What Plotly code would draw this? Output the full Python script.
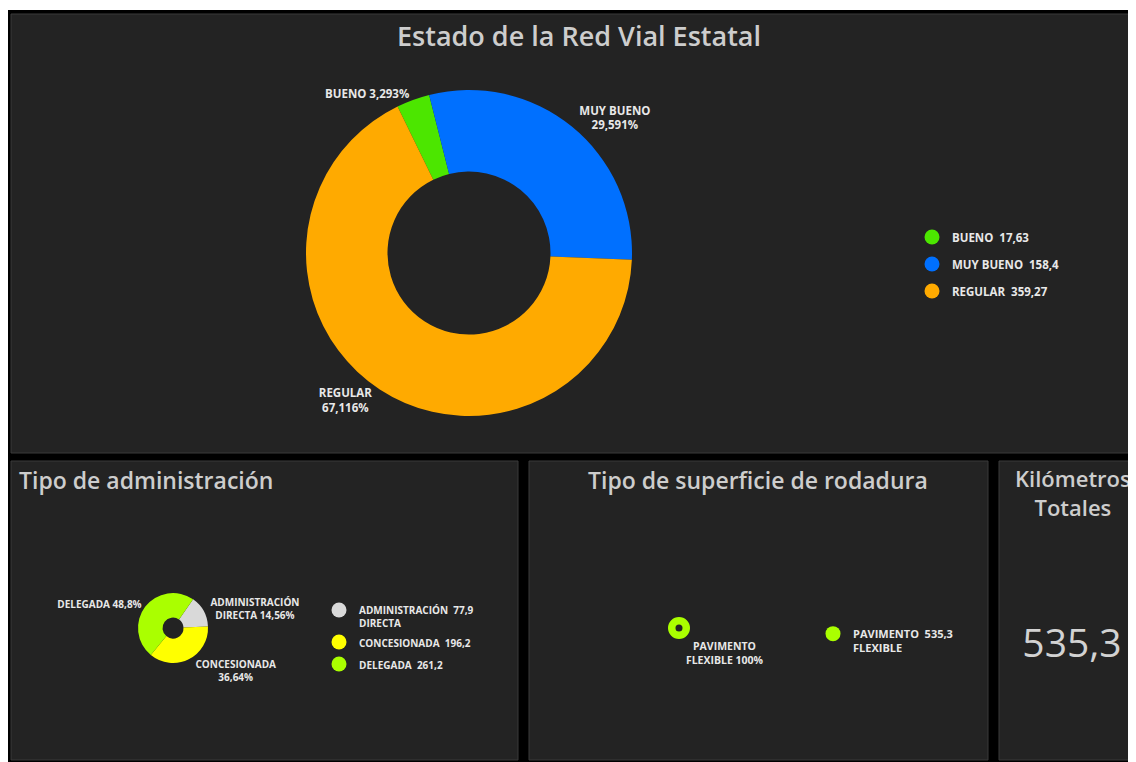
import plotly.graph_objects as go

W, H = 1136, 762
OX, OY = 8, 8  # page body margin of the browser

# ---------------- data ----------------
estado_labels = ["BUENO", "MUY BUENO", "REGULAR"]
estado_values = [17.63, 158.4, 359.27]
estado_colors = ["#4ce600", "#0070ff", "#ffaa00"]

admin_labels = ["ADMINISTRACIÓN DIRECTA", "CONCESIONADA", "DELEGADA"]
admin_text = ["ADMINISTRACIÓN<br>DIRECTA", "CONCESIONADA", "DELEGADA"]
admin_values = [77.9, 196.2, 261.2]
admin_pct = ["14,56%", "36,64%", "48,8%"]
admin_colors = ["#d9d9d9", "#ffff00", "#aaff00"]

sup_labels = ["PAVIMENTO FLEXIBLE"]
sup_text = ["PAVIMENTO<br>FLEXIBLE"]
sup_values = [535.3]
sup_pct = ["100%"]
sup_colors = ["#aaff00"]

km_total = 535.3

# ---------------- helpers ----------------
def fx(x):
    return (x - OX) / W

def fy(y):
    return 1 - (y - OY) / H

def fmt(v):
    return f"{v:g}".replace(".", ",")

FAM = "Open Sans"
TXT = "#e8e8e8"
def lfont(size):
    return dict(family=FAM, size=size, color=TXT, weight=700)
TITLE_COLOR = "#cdcdcd"

fig = go.Figure()

# ---------------- pies ----------------
def pie_domain(cx, cy, r):
    return dict(x=[fx(cx - r), fx(cx + r)], y=[fy(cy + r), fy(cy - r)])

fig.add_trace(go.Pie(
    labels=estado_labels, values=estado_values,
    marker=dict(colors=estado_colors, line=dict(width=0)),
    hole=0.5, sort=False, direction="clockwise", rotation=-26,
    textposition="outside",
    texttemplate=["%{label} %{percent:.3%}", "%{label}<br>%{percent:.3%}", "%{label}<br>%{percent:.3%}"],
    outsidetextfont=lfont(11.5),
    domain=pie_domain(469, 253, 163),
    showlegend=False, hoverinfo="skip",
))

fig.add_trace(go.Pie(
    labels=admin_labels, values=admin_values,
    marker=dict(colors=admin_colors, line=dict(width=0)),
    hole=0.3, sort=False, direction="clockwise", rotation=35,
    textposition="outside",
    customdata=[[t, p] for t, p in zip(admin_text, admin_pct)],
    texttemplate=["%{customdata[0]} %{customdata[1]}", "%{customdata[0]}<br>%{customdata[1]}", "%{customdata[0]} %{customdata[1]}"],
    outsidetextfont=lfont(10),
    domain=pie_domain(173, 628, 35),
    showlegend=False, hoverinfo="skip",
))

fig.add_trace(go.Pie(
    labels=sup_labels, values=sup_values,
    marker=dict(colors=sup_colors, line=dict(width=0)),
    hole=0.32, sort=False, direction="clockwise",
    textposition="outside",
    customdata=[[t, p] for t, p in zip(sup_text, sup_pct)],
    texttemplate="%{customdata[0]} %{customdata[1]}",
    outsidetextfont=lfont(10.5),
    domain=pie_domain(679, 628, 11),
    showlegend=False, hoverinfo="skip",
))

# ---------------- legends (circle markers) ----------------
def legend_traces(labels, values, colors, legend, names=None):
    for i, (lab, v, c) in enumerate(zip(labels, values, colors)):
        nm = (names[i] if names else lab)
        if "<br>" in nm:
            first, rest = nm.split("<br>", 1)
            name = f"{first}  {fmt(v)}<br>{rest}"
        else:
            name = f"{nm}  {fmt(v)}"
        fig.add_trace(go.Scatter(
            x=[None], y=[None], mode="markers",
            marker=dict(color=c, size=15, symbol="circle"),
            name=name, legend=legend, legendgroup=f"{legend}{i}",
            hoverinfo="skip",
        ))

legend_traces(estado_labels, estado_values, estado_colors, "legend")
legend_traces(admin_labels, admin_values, admin_colors, "legend2", names=admin_text)
legend_traces(sup_labels, sup_values, sup_colors, "legend3", names=sup_text)

common_leg = dict(bgcolor="rgba(0,0,0,0)", xanchor="left", yanchor="top",
                  tracegroupgap=8, itemsizing="trace", valign="top", itemwidth=30)

# ---------------- big number ----------------
fig.add_trace(go.Indicator(
    mode="number", value=km_total,
    number=dict(font=dict(family=FAM, size=39, color="#d2d2d2"), valueformat=",.1f"),
    domain=dict(x=[fx(1008), fx(1136)], y=[fy(682), fy(600)]),
))

# ---------------- panels ----------------
panel_fill = "#232323"
panel_line = "#3a3a3a"
shapes = [
    dict(type="rect", xref="paper", yref="paper", x0=fx(0), x1=fx(1140), y0=fy(8), y1=fy(10),
         fillcolor="#ffffff", line=dict(width=0), layer="below"),
]
for (x0, y0, x1, y1) in [(11, 14, 1140, 453), (11, 461, 518, 760), (529, 461, 988, 760), (999, 461, 1140, 760)]:
    shapes.append(dict(type="rect", xref="paper", yref="paper",
                       x0=fx(x0), x1=fx(x1), y0=fy(y1), y1=fy(y0),
                       fillcolor=panel_fill, line=dict(color=panel_line, width=1), layer="below"))

# ---------------- titles ----------------
TFONT = dict(family=FAM, color=TITLE_COLOR, weight=600)
annotations = [
    dict(text="Estado de la Red Vial Estatal", x=fx(579), y=fy(36), xref="paper", yref="paper",
         showarrow=False, xanchor="center", yanchor="middle", font=dict(TFONT, size=27)),
    dict(text="Tipo de administración", x=fx(17), y=fy(480), xref="paper", yref="paper",
         showarrow=False, xanchor="left", yanchor="middle", font=dict(TFONT, size=23)),
    dict(text="Tipo de superficie de rodadura", x=fx(758), y=fy(480), xref="paper", yref="paper",
         showarrow=False, xanchor="center", yanchor="middle", font=dict(TFONT, size=23)),
    dict(text="Kilómetros<br>Totales", x=fx(1073), y=fy(492), xref="paper", yref="paper",
         showarrow=False, xanchor="center", yanchor="middle", font=dict(TFONT, size=22)),
]

fig.update_layout(
    width=W, height=H,
    margin=dict(l=0, r=0, t=0, b=0),
    paper_bgcolor="#000000", plot_bgcolor="rgba(0,0,0,0)",
    separators=",.",
    xaxis=dict(visible=False), yaxis=dict(visible=False),
    shapes=shapes, annotations=annotations,
    legend=dict(common_leg, x=fx(912), y=fy(223), font=lfont(11.5)),
    legend2=dict(common_leg, x=fx(319), y=fy(597), tracegroupgap=3, font=lfont(10)),
    legend3=dict(common_leg, x=fx(813), y=fy(620), font=lfont(11)),
    showlegend=True,
)

fig.write_html("out.html")
